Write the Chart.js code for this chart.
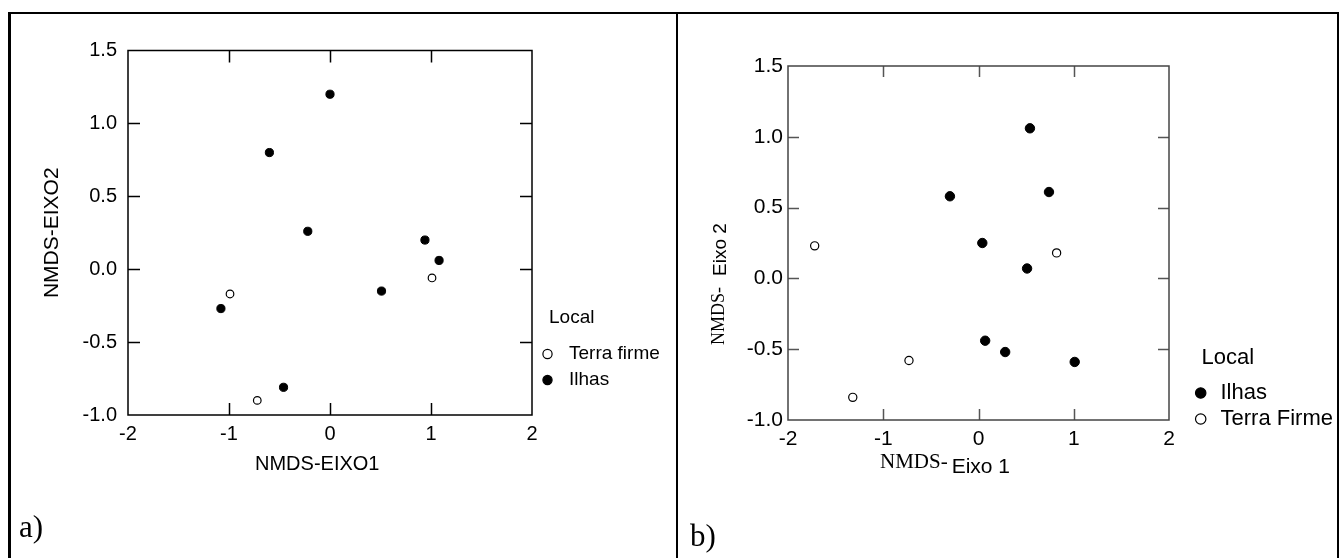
<!DOCTYPE html>
<html>
<head>
<meta charset="utf-8">
<script src="https://cdn.jsdelivr.net/npm/chart.js@4.4.1/dist/chart.umd.min.js"></script>
<style>
  html, body { margin: 0; padding: 0; background: #fff; }
  body { width: 1341px; height: 558px; position: relative; overflow: hidden; }
  canvas { position: absolute; top: 0; }
  #chartA { left: 0; }
  #chartB { left: 678px; }
  .rule { position: absolute; background: #000; z-index: 2; }
  .tag { position: absolute; font-family: 'Liberation Serif', 'Times New Roman', serif; font-size: 31px; line-height: 1; color: #000; }
</style>
</head>
<body>
<canvas id="chartA" width="678" height="558"></canvas>
<canvas id="chartB" width="663" height="558"></canvas>

<!-- table frame around the two panels -->
<div class="rule" style="left:8px; top:12px; width:1331px; height:2px;"></div>
<div class="rule" style="left:8px; top:12px; width:3px; height:546px;"></div>
<div class="rule" style="left:676px; top:12px; width:2px; height:546px;"></div>
<div class="rule" style="left:1337px; top:12px; width:2px; height:546px;"></div>

<div class="tag" style="left:19px; top:511px;">a)</div>
<div class="tag" style="left:690px; top:520px;">b)</div>

<script>
// ---- data ----
const xTickValues = [-2, -1, 0, 1, 2];
const yTickValues = [-1.0, -0.5, 0.0, 0.5, 1.0, 1.5];

// panel a
const aIlhasX = [0.0, -0.60, -0.22, 0.94, 1.08, 0.51, -1.08, -0.46];
const aIlhasY = [1.20, 0.80, 0.26, 0.20, 0.06, -0.15, -0.27, -0.81];
const aTerraX = [-0.99, 1.01, -0.72];
const aTerraY = [-0.17, -0.06, -0.90];

// panel b
const bIlhasX = [0.54, -0.30, 0.74, 0.04, 0.51, 0.07, 0.28, 1.01];
const bIlhasY = [1.06, 0.58, 0.61, 0.25, 0.07, -0.44, -0.52, -0.59];
const bTerraX = [-1.72, 0.82, -0.73, -1.32];
const bTerraY = [0.23, 0.18, -0.58, -0.84];

const SANS = "'Liberation Sans', Arial, sans-serif";
const SERIF = "'Liberation Serif', 'Times New Roman', serif";

function pts(xs, ys) {
    return xs.map((x, i) => ({ x: x, y: ys[i] }));
}

// box around the plot with inward ticks on all four sides
const boxTicks = {
    id: 'boxTicks',
    beforeDatasetsDraw(chart, args, opts) {
        const { ctx, chartArea: a, scales: { x, y } } = chart;
        ctx.save();
        ctx.lineWidth = opts.lineWidth;
        ctx.strokeStyle = opts.tickColor;
        ctx.beginPath();
        x.ticks.forEach(t => {
            if (t.value <= x.min || t.value >= x.max) return;
            const px = Math.round(x.getPixelForValue(t.value)) + 0.5;
            ctx.moveTo(px, a.bottom); ctx.lineTo(px, a.bottom - opts.len);
            ctx.moveTo(px, a.top); ctx.lineTo(px, a.top + opts.len);
        });
        y.ticks.forEach(t => {
            if (t.value <= y.min || t.value >= y.max) return;
            const py = Math.round(y.getPixelForValue(t.value)) + 0.5;
            ctx.moveTo(a.left, py); ctx.lineTo(a.left + opts.len, py);
            ctx.moveTo(a.right, py); ctx.lineTo(a.right - opts.len, py);
        });
        ctx.stroke();
        ctx.strokeStyle = opts.color;
        ctx.strokeRect(a.left, a.top, a.right - a.left, a.bottom - a.top);
        ctx.restore();
    }
};

// "Local" legend to the right of the plot
const sideLegend = {
    id: 'sideLegend',
    afterDraw(chart, args, opts) {
        const { ctx, chartArea: a } = chart;
        ctx.save();
        ctx.fillStyle = '#000';
        ctx.textBaseline = 'middle';
        ctx.font = opts.font;
        ctx.fillText(opts.title, a.right + opts.titleDx, a.bottom + opts.titleDy);
        chart.data.datasets.forEach((ds, i) => {
            const cy = a.bottom + opts.itemDy[i];
            ctx.beginPath();
            ctx.arc(a.right + opts.markDx, cy, opts.radius, 0, Math.PI * 2);
            ctx.fillStyle = ds.backgroundColor;
            ctx.fill();
            ctx.lineWidth = 1.2;
            ctx.strokeStyle = ds.borderColor;
            ctx.stroke();
            ctx.fillStyle = '#000';
            ctx.fillText(ds.label, a.right + opts.textDx, cy);
        });
        ctx.restore();
    }
};

// axis titles placed as in the original figure
// (panel b mixes a serif "NMDS-" with sans "Eixo n")
const axisTitles = {
    id: 'axisTitles',
    afterDraw(chart, args, opts) {
        const { ctx, chartArea: a } = chart;
        ctx.save();
        ctx.fillStyle = '#000';
        ctx.textBaseline = 'alphabetic';
        if (opts.mode === 'plain') {
            ctx.font = '20px ' + SANS;
            ctx.fillText(opts.xText, a.left + 127, a.bottom + 55);
            ctx.restore();
            return;
        }
        // x title
        let x0 = a.left + 92;
        ctx.font = '21px ' + SERIF;
        ctx.fillText('NMDS-', x0, a.bottom + 48);
        x0 += ctx.measureText('NMDS-').width + 4;
        ctx.font = '21px ' + SANS;
        ctx.fillText('Eixo 1', x0, a.bottom + 53);
        // y title, rotated
        ctx.translate(a.left - 64, a.bottom - 75);
        ctx.rotate(-Math.PI / 2);
        ctx.font = '18px ' + SERIF;
        ctx.fillText('NMDS-', 0, 0);
        const w = ctx.measureText('NMDS-').width + 11;
        ctx.font = '19px ' + SANS;
        ctx.fillText('Eixo 2', w, 2);
        ctx.restore();
    }
};

function makeChart(id, datasets, cfg) {
    return new Chart(document.getElementById(id), {
        type: 'scatter',
        data: { datasets: datasets },
        options: {
            responsive: false,
            animation: false,
            layout: { padding: cfg.padding },
            plugins: {
                legend: { display: false },
                tooltip: { enabled: false },
                boxTicks: cfg.box,
                sideLegend: cfg.legend,
                axisTitles: cfg.titles
            },
            scales: {
                x: {
                    type: 'linear', min: -2, max: 2,
                    afterBuildTicks: s => { s.ticks = xTickValues.map(v => ({ value: v })); },
                    afterFit: s => { s.height = 60; },
                    grid: { display: false, drawTicks: false },
                    border: { display: false },
                    ticks: {
                        color: '#000', padding: cfg.xPad, maxRotation: 0,
                        font: { family: SANS, size: cfg.tickSize },
                        callback: v => String(v)
                    }
                },
                y: {
                    type: 'linear', min: -1, max: 1.5,
                    afterBuildTicks: s => { s.ticks = yTickValues.map(v => ({ value: v })); },
                    afterFit: s => { s.width = cfg.yWidth; },
                    grid: { display: false, drawTicks: false },
                    border: { display: false },
                    ticks: {
                        color: '#000', padding: cfg.yPad,
                        font: { family: SANS, size: cfg.tickSize },
                        callback: v => v.toFixed(1)
                    },
                    title: cfg.yTitle
                }
            }
        },
        plugins: [boxTicks, sideLegend, axisTitles]
    });
}

// panel a
makeChart('chartA', [
    {
        label: 'Terra firme', data: pts(aTerraX, aTerraY),
        backgroundColor: '#fff', borderColor: '#000', borderWidth: 1.2,
        pointRadius: 3.8, pointHoverRadius: 3.8
    },
    {
        label: 'Ilhas', data: pts(aIlhasX, aIlhasY),
        backgroundColor: '#000', borderColor: '#000', borderWidth: 1,
        pointRadius: 4.1, pointHoverRadius: 4.1
    }
], {
    padding: { top: 50.5, right: 146, bottom: 83, left: 0 },
    yWidth: 128, tickSize: 20, xPad: 7, yPad: 11,
    box: { color: '#000', tickColor: '#000', lineWidth: 1.5, len: 12 },
    legend: {
        title: 'Local', font: '19px ' + SANS,
        titleDx: 17, titleDy: -97, markDx: 15.5, textDx: 37,
        itemDy: [-61, -35], radius: 4.6
    },
    titles: { mode: 'plain', xText: 'NMDS-EIXO1' },
    yTitle: {
        display: true, text: 'NMDS-EIXO2', color: '#000',
        font: { family: SANS, size: 21 }, padding: { top: 40, bottom: 0 }
    }
});

// panel b
makeChart('chartB', [
    {
        label: 'Ilhas', data: pts(bIlhasX, bIlhasY),
        backgroundColor: '#000', borderColor: '#000', borderWidth: 1,
        pointRadius: 4.7, pointHoverRadius: 4.7
    },
    {
        label: 'Terra Firme', data: pts(bTerraX, bTerraY),
        backgroundColor: '#fff', borderColor: '#000', borderWidth: 1.2,
        pointRadius: 4.1, pointHoverRadius: 4.1
    }
], {
    padding: { top: 66, right: 172, bottom: 78, left: 0 },
    yWidth: 110, tickSize: 21, xPad: 7, yPad: 5,
    box: { color: '#444', tickColor: '#555', lineWidth: 1.5, len: 11 },
    legend: {
        title: 'Local', font: '22px ' + SANS,
        titleDx: 32.5, titleDy: -62, markDx: 31.7, textDx: 51.5,
        itemDy: [-27, -1], radius: 5.2
    },
    titles: { mode: 'mixed' },
    yTitle: { display: false }
});
</script>
</body>
</html>
